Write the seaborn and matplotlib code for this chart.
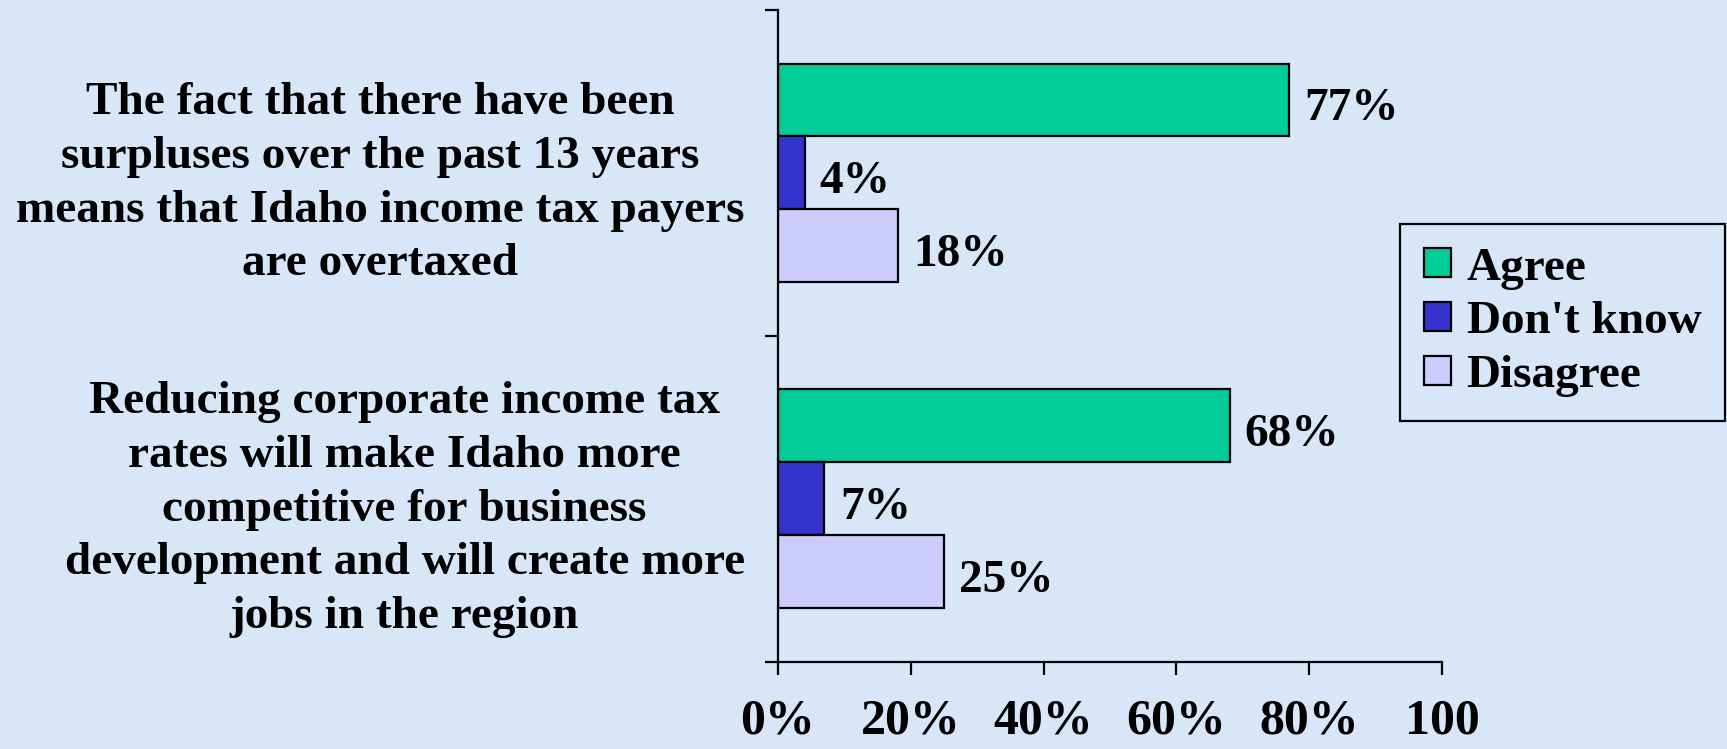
import matplotlib
matplotlib.use("Agg")
import pandas as pd
import matplotlib.pyplot as plt
import seaborn as sns

statements = [
    "The fact that there have been\nsurpluses over the past 13 years\nmeans that Idaho income tax payers\nare overtaxed",
    "Reducing corporate income tax\nrates will make Idaho more\ncompetitive for business\ndevelopment and will create more\njobs in the region",
]
responses = ["Agree", "Don't know", "Disagree"]
agree = [77, 68]
dont_know = [4, 7]
disagree = [18, 25]
x_ticks = [0, 20, 40, 60, 80, 100]
x_labels = ["0%", "20%", "40%", "60%", "80%", "100"]

sns.set_style("ticks")
plt.rcParams["font.family"] = ["Liberation Serif", "DejaVu Serif"]
plt.rcParams["font.weight"] = "bold"
plt.rcParams["text.color"] = "black"
plt.rcParams["xtick.color"] = "black"
plt.rcParams["ytick.color"] = "black"
plt.rcParams["xtick.labelcolor"] = "black"
plt.rcParams["ytick.labelcolor"] = "black"
my_palette = ["#00cc99", "#3333cc", "#ccccff"]
bg = "#d7e7f8"

rows = []
for i, s in enumerate(statements):
    for r, vals in zip(responses, [agree, dont_know, disagree]):
        rows.append({"Statement": s, "Response": r, "Value": vals[i]})
df = pd.DataFrame(rows)

fig = plt.figure(figsize=(17.27, 7.49), dpi=100, facecolor=bg)
ax = fig.add_axes([0.4505, 0.1166, 0.3845, 0.8704])
ax.set_facecolor("none")

f = sns.barplot(
    data=df,
    x="Value",
    y="Statement",
    hue="Response",
    hue_order=responses,
    palette=my_palette,
    orient="h",
    width=0.67,
    edgecolor="black",
    linewidth=1.6,
    saturation=1,
    ax=ax,
)

for cont in f.containers:
    anns = f.bar_label(cont, labels=[f"{int(v)}%" for v in cont.datavalues],
                       padding=11, fontsize=34, fontweight="bold", color="black")
    for a in anns:
        a.xyann = (11, -6.5)

f.set_xlim(0, 100)
f.set_ylim(1.5, -0.5)
f.set_xticks(x_ticks)
f.set_xticklabels(x_labels, fontsize=36, fontweight="bold")
f.set_yticks([-0.5, 0.5, 1.5])
f.set_yticklabels(["", "", ""])
f.set_yticks([0, 1], minor=True)
f.set_yticklabels(statements, minor=True, fontsize=34, fontweight="bold",
                  multialignment="center", linespacing=1.37)
f.tick_params(axis="y", which="minor", length=0, pad=24)
f.tick_params(axis="y", which="major", length=9.5, width=1.6, direction="out")
f.tick_params(axis="x", length=9.5, width=1.6, direction="out", pad=17)
f.set_xlabel("")
f.set_ylabel("")
sns.despine(ax=f, top=True, right=True)
for sp in ["left", "bottom"]:
    f.spines[sp].set_linewidth(1.6)
    f.spines[sp].set_color("black")

f.get_legend().remove()
handles = [plt.Rectangle((0, 0), 1, 1, facecolor=c, edgecolor="black", linewidth=1.6)
           for c in my_palette]
leg = fig.legend(
    handles, responses,
    loc="upper left", bbox_to_anchor=(0.8107, 0.7009), borderaxespad=0,
    prop={"family": "Liberation Serif", "weight": "bold", "size": 34},
    handlelength=0.57, handleheight=0.57, handletextpad=0.34,
    borderpad=0.5, labelspacing=0.25, fancybox=False, framealpha=1,
)
leg.get_frame().set_facecolor("none")
leg.get_frame().set_edgecolor("black")
leg.get_frame().set_linewidth(1.6)

fig.savefig("out.png", dpi=100, facecolor=bg)
